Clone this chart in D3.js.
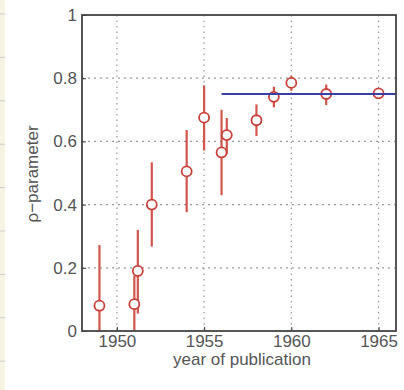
<!DOCTYPE html>
<html>
<head>
<meta charset="utf-8">
<script src="https://cdn.jsdelivr.net/npm/d3@7"></script>
<style>
  body { margin: 0; background: #fff; }
  text { font-family: "Liberation Sans", Arial, sans-serif; fill: #555; }
</style>
</head>
<body>
<svg id="chart" width="404" height="390"></svg>
<script>
// values
const years  = [1949, 1951, 1951.2, 1952, 1954, 1955, 1956, 1956.3, 1958, 1959, 1960, 1962, 1965];
const rho    = [0.08, 0.085, 0.19, 0.40, 0.505, 0.675, 0.565, 0.62, 0.667, 0.741, 0.785, 0.75, 0.752];
const errLo  = [-0.12, -0.02, 0.055, 0.267, 0.376, 0.571, 0.43, 0.56, 0.617, 0.708, 0.76, 0.715, 0.745];
const errHi  = [0.272, 0.175, 0.32, 0.534, 0.636, 0.777, 0.70, 0.674, 0.717, 0.773, 0.808, 0.78, 0.76];
const plateau = {from: 1956, to: 1966, value: 0.75};
const xTicks = [1950, 1955, 1960, 1965];
const yTicks = [0, 0.2, 0.4, 0.6, 0.8, 1];

const svg = d3.select('#chart');
const m = {left: 82, right: 8, top: 15, bottom: 59};
const w = 404 - m.left - m.right, h = 390 - m.top - m.bottom;

// cream strip on the left edge of the page
svg.append('rect').attr('x', 0).attr('y', 0).attr('width', 5).attr('height', 390).attr('fill', '#f8f4e4');
svg.selectAll('.strip').data(d3.range(14, 390, 43.4)).enter()
  .append('line').attr('x1', 0).attr('x2', 5).attr('y1', d => d).attr('y2', d => d)
  .attr('stroke', '#ccc').attr('stroke-width', 1);

const x = d3.scaleLinear().domain([1948, 1966]).range([0, w]);
const y = d3.scaleLinear().domain([0, 1]).range([h, 0]);

const g = svg.append('g').attr('transform', `translate(${m.left},${m.top})`);

g.append('clipPath').attr('id', 'clip').append('rect').attr('width', w).attr('height', h);

// grid
g.selectAll('.vgrid').data(xTicks).enter().append('line')
  .attr('x1', d => x(d)).attr('x2', d => x(d)).attr('y1', 0).attr('y2', h)
  .attr('stroke', '#999').attr('stroke-width', 1.2).attr('stroke-dasharray', '1.5,4');
g.selectAll('.hgrid').data(yTicks.slice(1, -1)).enter().append('line')
  .attr('x1', 0).attr('x2', w).attr('y1', d => y(d)).attr('y2', d => y(d))
  .attr('stroke', '#999').attr('stroke-width', 1.2).attr('stroke-dasharray', '2,4');

const pts = years.map((yr, i) => ({yr, v: rho[i], lo: errLo[i], hi: errHi[i]}));
const marks = g.append('g').attr('clip-path', 'url(#clip)');

marks.selectAll('.err').data(pts).enter().append('line')
  .attr('x1', d => x(d.yr)).attr('x2', d => x(d.yr))
  .attr('y1', d => y(d.lo)).attr('y2', d => y(d.hi))
  .attr('stroke', '#d2554c').attr('stroke-width', 2.2);

marks.selectAll('.pt').data(pts).enter().append('circle')
  .attr('cx', d => x(d.yr)).attr('cy', d => y(d.v)).attr('r', 5)
  .attr('fill', '#fff').attr('stroke', '#c8403a').attr('stroke-width', 1.8);

marks.append('line')
  .attr('x1', x(plateau.from)).attr('x2', x(plateau.to))
  .attr('y1', y(plateau.value)).attr('y2', y(plateau.value))
  .attr('stroke', '#3a3fa8').attr('stroke-width', 1.8);

// axes, MATLAB-ish inward ticks
const xAxis = g.append('g').attr('transform', `translate(0,${h})`)
  .call(d3.axisBottom(x).tickValues(xTicks).tickSize(-4).tickPadding(4).tickFormat(d3.format('d')));
const yAxis = g.append('g')
  .call(d3.axisLeft(y).tickValues(yTicks).tickSize(-4).tickPadding(5).tickFormat(d => d === 0 || d === 1 ? d : d3.format('.1f')(d)));
[xAxis, yAxis].forEach(a => {
  a.select('.domain').remove();
  a.selectAll('line').attr('stroke', '#333');
  a.selectAll('text').style('font-size', '17px').attr('fill', '#555');
});

g.append('rect').attr('width', w).attr('height', h)
  .attr('fill', 'none').attr('stroke', '#444').attr('stroke-width', 1.8);

svg.append('text').attr('x', m.left + w / 2 + 3).attr('y', 365)
  .attr('text-anchor', 'middle').style('font-size', '17px').text('year of publication');
svg.append('text').attr('transform', `translate(38,${m.top + h / 2 + 1}) rotate(-90)`)
  .attr('text-anchor', 'middle').style('font-size', '17px').text('ρ−parameter');
</script>
</body>
</html>
